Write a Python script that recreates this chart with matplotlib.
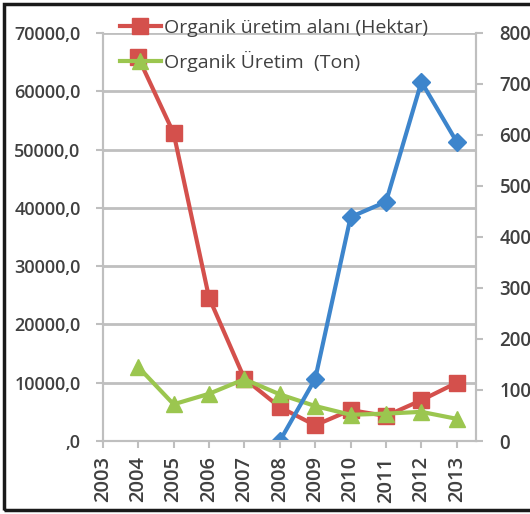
import matplotlib
matplotlib.use('Agg')
import matplotlib.pyplot as plt
from matplotlib.patches import Rectangle
from matplotlib.ticker import FuncFormatter

years = [2004, 2005, 2006, 2007, 2008, 2009, 2010, 2011, 2012, 2013]
alan_hektar = [65800, 52800, 24600, 10700, 5800, 2700, 5300, 4300, 7000, 10000]
uretim_ton = [12700, 6300, 8100, 10600, 8000, 6000, 4500, 4700, 5000, 3800]
blue_years = [2008, 2009, 2010, 2011, 2012, 2013]
blue_values = [0, 122, 439, 469, 704, 586]
year_ticks = list(range(2003, 2014))

RED = '#D4504C'
GREEN = '#9BC64F'
BLUE = '#3D85CC'
GRID = '#BFBFBF'
TXT = '#404040'


def left_fmt(v, pos):
    if v == 0:
        return ',0'
    return '%d,0' % v


def main():
    plt.rcParams['font.family'] = ['Open Sans', 'DejaVu Sans']
    fig = plt.figure(figsize=(5.3, 5.14), dpi=100)
    ax = fig.add_axes([0.194, 0.142, 0.704, 0.794])
    ax2 = ax.twinx()

    ax.set_xlim(2003, 2013.54)
    ax.set_ylim(0, 70000)
    ax2.set_ylim(0, 800)

    ax.set_yticks(range(0, 70001, 10000))
    ax.yaxis.set_major_formatter(FuncFormatter(left_fmt))
    ax2.set_yticks(range(0, 801, 100))
    ax.set_xticks(year_ticks)
    ax.set_xticklabels([str(y) for y in year_ticks], rotation=90)

    ax.grid(axis='y', color=GRID, linewidth=2)
    ax.set_axisbelow(True)

    for a in (ax, ax2):
        for s in a.spines.values():
            s.set_color(GRID)
            s.set_linewidth(1.5)
        a.spines['top'].set_visible(False)

    ax.tick_params(axis='y', colors=GRID, labelcolor=TXT, labelsize=13, length=5, pad=11, width=1.5)
    ax.tick_params(axis='x', colors=GRID, labelcolor=TXT, labelsize=14.5, length=5, pad=6, width=1.5)
    # right axis labels run off the image edge, as in the original screenshot
    ax2.tick_params(axis='y', colors=GRID, labelcolor=TXT, labelsize=13.5, length=5, pad=12, width=1.5)
    for lbl in ax.get_yticklabels() + ax.get_xticklabels() + ax2.get_yticklabels():
        lbl.set_fontweight('semibold')

    ax.plot(years, uretim_ton, color=GREEN, linewidth=3, marker='^', markersize=11,
            label='Organik Üretim  (Ton)', zorder=3)
    ax.plot(years, alan_hektar, color=RED, linewidth=3, marker='s', markersize=11,
            label='Organik üretim alanı (Hektar)', zorder=2)
    ax2.plot(blue_years, blue_values, color=BLUE, linewidth=3, marker='D', markersize=9)

    h, l = ax.get_legend_handles_labels()
    leg = ax.legend([h[1], h[0]], [l[1], l[0]], loc='upper left',
                    bbox_to_anchor=(0.025, 1.053), frameon=False, fontsize=14,
                    handlelength=2.1, handletextpad=0.15, labelspacing=0.72,
                    borderaxespad=0)
    for t in leg.get_texts():
        t.set_color(TXT)

    fig.patches.append(Rectangle((4 / 530, 4 / 514), 1.2, 1 - 8 / 514, transform=fig.transFigure,
                                 fill=False, edgecolor='#1a1a1a', linewidth=2.5))

    fig.savefig('out.png', dpi=100)


if __name__ == "__main__":
    main()
